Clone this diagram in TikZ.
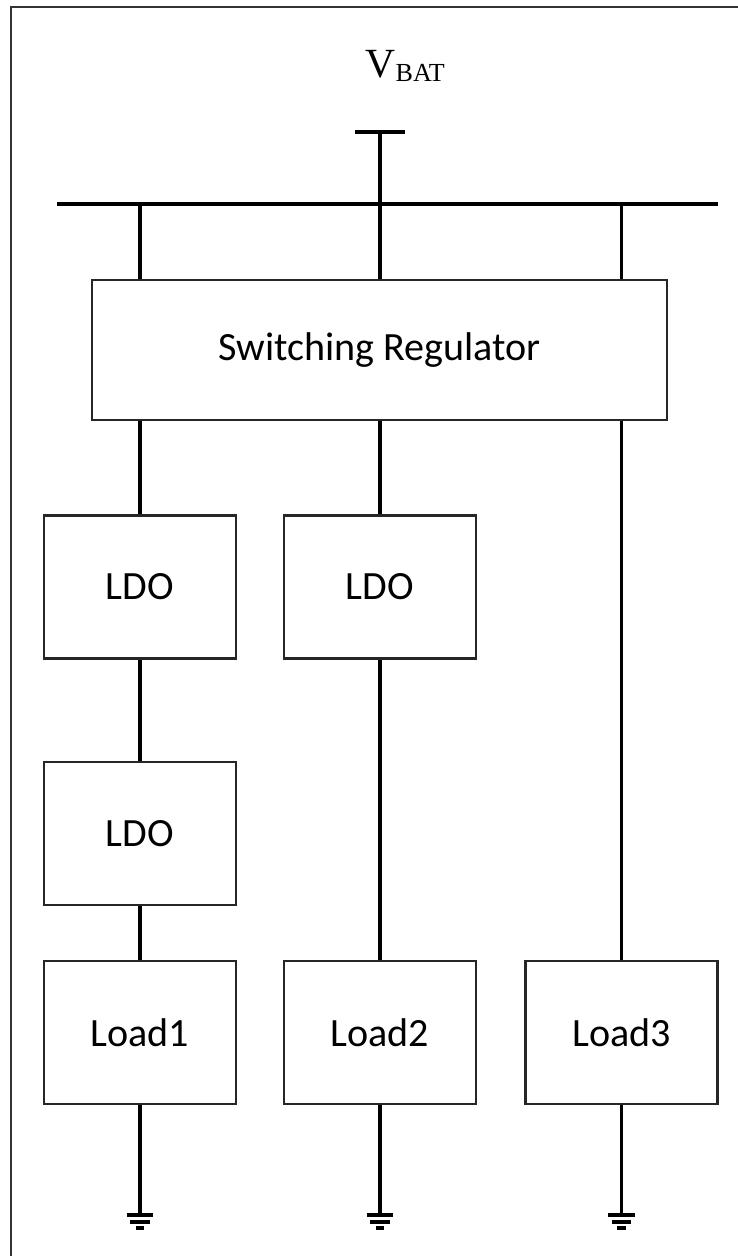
\documentclass[tikz,border=0pt]{standalone}
\usepackage{fontspec}
\setmainfont{Carlito}
\newfontfamily\timesfont{Liberation Serif}

\begin{document}
\begin{tikzpicture}[
    wire/.style={line width=1.05pt},
    bus/.style={line width=1.15pt},
    blk/.style={draw=black!85, line width=0.6pt, fill=white, inner sep=0pt,
      minimum width=1.92cm, minimum height=1.43cm,
      font=\fontsize{11.4}{13}\selectfont},
    frame/.style={draw=black!80, line width=0.5pt}]
    \def\x{0.01}
    \def\y{-0.01}
    \useasboundingbox (0,0) rectangle (738*\x, 1256*\y);
    \draw [frame] (11*\x, 1256*\y) -- (11*\x, 7*\y) -- (738*\x, 7*\y);
    % supply and bus
    \node [anchor=base west, inner sep=0pt,
      font=\timesfont\fontsize{11.8}{13}\selectfont] (A0_1) at (365*\x, 77*\y)
      {V\raisebox{-1.4pt}{\fontsize{7.4}{9}\selectfont BAT}};
    \coordinate (T) at (380*\x, 132*\y);
    \coordinate (B_l) at (57*\x, 204*\y);
    \coordinate (B_r) at (718*\x, 204*\y);
    \coordinate (B0) at (140*\x, 204*\y);
    \coordinate (B2) at (621.5*\x, 204*\y);
    \draw [bus] (B_l) -- (B_r);
    \draw [bus] ([xshift=-0.25cm]T) -- ([xshift=0.25cm]T);
    % blocks
    \node [blk, minimum width=5.75cm, minimum height=1.4cm] (A1_1) at (379.5*\x, 350*\y) {Switching Regulator};
    \node [blk] (A2_0) at (140*\x, 587*\y) {LDO};
    \node [blk] (A2_1) at (380*\x, 587*\y) {LDO};
    \node [blk] (A3_0) at (140*\x, 833.5*\y) {LDO};
    \node [blk] (A4_0) at (140*\x, 1032.5*\y) {Load1};
    \node [blk] (A4_1) at (380*\x, 1032.5*\y) {Load2};
    \node [blk] (A4_2) at (621.5*\x, 1032.5*\y) {Load3};
    % wiring
    \path (T) edge [wire] (T |- A1_1.north);
    \path (B0) edge [wire] (B0 |- A1_1.north);
    \path (B2) edge [wire] (B2 |- A1_1.north);
    \path (A2_0 |- A1_1.south) edge [wire] (A2_0);
    \path (A2_1 |- A1_1.south) edge [wire] (A2_1);
    \path (A4_2 |- A1_1.south) edge [wire] (A4_2);
    \path (A2_0) edge [wire] (A3_0);
    \path (A3_0) edge [wire] (A4_0);
    \path (A2_1) edge [wire] (A4_1);
    % grounds
    \coordinate (G0) at (140*\x, 1215*\y);
    \coordinate (G1) at (380*\x, 1215*\y);
    \coordinate (G2) at (621.5*\x, 1215*\y);
    \path (A4_0) edge [wire] (G0);
    \path (A4_1) edge [wire] (G1);
    \path (A4_2) edge [wire] (G2);
    \draw [wire] ([xshift=-0.13cm]G0) -- ([xshift=0.13cm]G0)
      ([xshift=-0.095cm,yshift=-0.07cm]G0) -- ([xshift=0.095cm,yshift=-0.07cm]G0)
      ([xshift=-0.04cm,yshift=-0.13cm]G0) -- ([xshift=0.04cm,yshift=-0.13cm]G0);
    \draw [wire] ([xshift=-0.13cm]G1) -- ([xshift=0.13cm]G1)
      ([xshift=-0.095cm,yshift=-0.07cm]G1) -- ([xshift=0.095cm,yshift=-0.07cm]G1)
      ([xshift=-0.04cm,yshift=-0.13cm]G1) -- ([xshift=0.04cm,yshift=-0.13cm]G1);
    \draw [wire] ([xshift=-0.13cm]G2) -- ([xshift=0.13cm]G2)
      ([xshift=-0.095cm,yshift=-0.07cm]G2) -- ([xshift=0.095cm,yshift=-0.07cm]G2)
      ([xshift=-0.04cm,yshift=-0.13cm]G2) -- ([xshift=0.04cm,yshift=-0.13cm]G2);
\end{tikzpicture}
\end{document}
